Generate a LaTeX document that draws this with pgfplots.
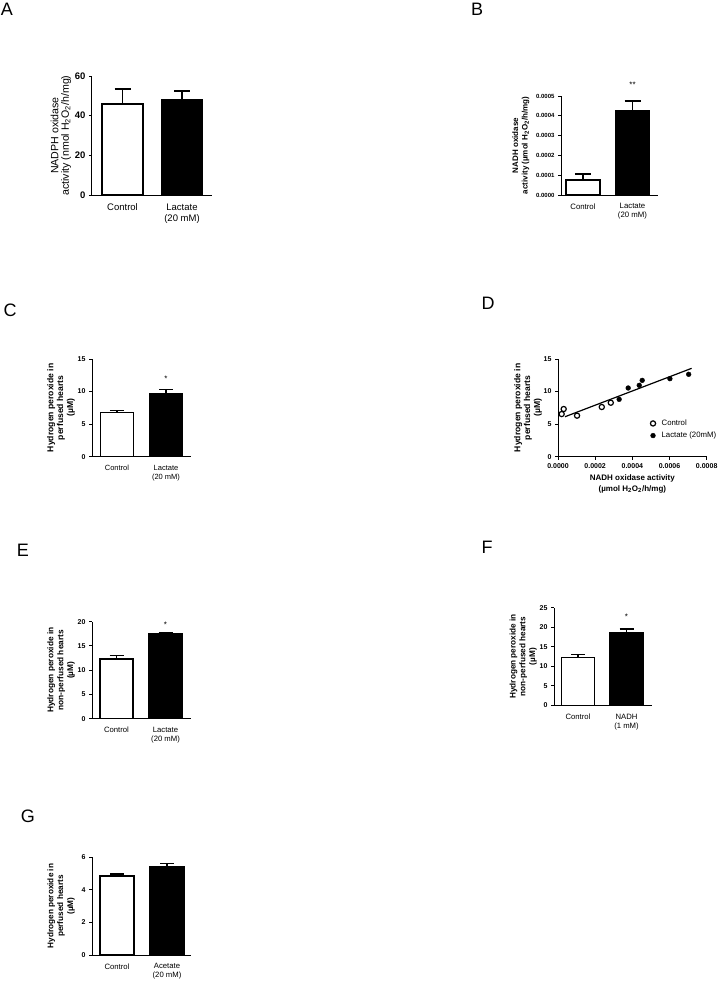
\documentclass[border=0pt]{standalone}
\usepackage{fontspec}
\setmainfont{Liberation Sans}
\usepackage{pgfplots}
\pgfplotsset{compat=1.18}

% 1 pt in the picture = 1 px of the 720x982 reference
\pgfplotsset{
  panel/.style={
    scale only axis, anchor=south west,
    axis x line*=bottom, axis y line*=left,
    x axis line style={-}, y axis line style={-},
    axis line style={line width=1pt},
    tick align=outside, major tick length=3pt,
    ytick style={black, line width=1pt},
    /pgf/number format/assume math mode=true,
    ymin=0, clip=false,
  },
  barpanel/.style={
    panel,
    ybar, bar shift=0pt,
    xtick={0,1}, xtick style={draw=none},
    xticklabel style={align=center, yshift=-2pt},
    error bars/y dir=plus, error bars/y explicit,
    error bars/error bar style={line width=1.4pt},
  },
  ctl/.style={fill=white, draw=black, line width=1.5pt},
  lac/.style={fill=black, draw=black, line width=1.5pt},
}
\tikzset{letter/.style={font=\fontsize{18}{18}\selectfont}}

\begin{document}
\begin{tikzpicture}
\useasboundingbox (0,0) rectangle (720pt,-982pt);

% panel letters
\node[letter] at (7pt,-9pt) {A};
\node[letter] at (477pt,-9pt) {B};
\node[letter] at (10pt,-310pt) {C};
\node[letter] at (488pt,-303pt) {D};
\node[letter] at (23pt,-550pt) {E};
\node[letter] at (487pt,-547pt) {F};
\node[letter] at (28pt,-816pt) {G};

% A
\begin{axis}[barpanel, at={(92pt,-195pt)}, width=120pt, height=119pt,
  xmin=-0.513, xmax=1.504, ymax=60, ytick={0,20,40,60},
  bar width=41pt,
  error bars/error mark options={rotate=90, mark size=8pt, line width=1.4pt},
  xticklabels={Control,{Lactate\\(20 mM)}},
  xticklabel style={font=\fontsize{9.5}{11}\selectfont},
  yticklabel style={font=\bfseries\fontsize{9.5}{10}\selectfont},
  ylabel={NADPH oxidase\\activity (nmol H\textsubscript{2}O\textsubscript{2}/h/mg)},
  ylabel shift=-3pt,
  ylabel style={align=center, font=\fontsize{10.6}{10.5}\selectfont}]
\addplot[ctl] coordinates {(0,45.9) +- (0,7.5)};
\addplot[lac] coordinates {(1,47.9) +- (0,4.5)};
\end{axis}

% B
\begin{axis}[barpanel, at={(561pt,-195pt)}, width=97pt, height=99pt,
  xmin=-0.444, xmax=1.515, ymax=0.0005,
  ytick={0,0.0001,0.0002,0.0003,0.0004,0.0005}, scaled y ticks=false,
  yticklabel style={font=\bfseries\fontsize{6}{7}\selectfont,
    /pgf/number format/.cd, fixed, fixed zerofill, precision=4},
  bar width=34pt,
  error bars/error mark options={rotate=90, mark size=8pt, line width=1.4pt},
  xticklabels={Control,{Lactate\\(20 mM)}},
  xticklabel style={font=\fontsize{7.8}{9}\selectfont},
  ylabel={NADH oxidase\\activity (µmol H\textsubscript{2}O\textsubscript{2}/h/mg)},
  ylabel style={align=center, font=\bfseries\fontsize{8}{9.5}\selectfont}]
\addplot[ctl] coordinates {(0,0.0000758) +- (0,0.000031)};
\addplot[lac] coordinates {(1,0.000426) +- (0,0.000049)};
\node[font=\fontsize{8}{8}\selectfont] at (axis cs:1,0.000555) {**};
\end{axis}

% C
\begin{axis}[barpanel, at={(92pt,-456.7pt)}, width=99pt, height=97.7pt,
  xmin=-0.51, xmax=1.51, ymax=15, ytick={0,5,10,15},
  bar width=33pt,
  error bars/error mark options={rotate=90, mark size=7pt, line width=1.4pt},
  xticklabels={Control,{Lactate\\(20 mM)}},
  xticklabel style={font=\fontsize{7.5}{9}\selectfont},
  yticklabel style={font=\bfseries\fontsize{7}{8}\selectfont},
  ylabel={Hydrogen peroxide in\\perfused hearts\\(µM)},
  ylabel shift=-4pt,
  ylabel style={align=center, font=\bfseries\fontsize{8.6}{9.8}\selectfont}]
\addplot[ctl] coordinates {(0,6.76) +- (0,0.3)};
\addplot[lac] coordinates {(1,9.67) +- (0,0.68)};
\node[font=\fontsize{8}{8}\selectfont] at (axis cs:1,11.9) {*};
\end{axis}

% D
\begin{axis}[panel, at={(558pt,-456.7pt)}, width=148.7pt, height=97.7pt,
  xmin=0, xmax=0.0008, ymax=15, ytick={0,5,10,15},
  xtick={0,0.0002,0.0004,0.0006,0.0008}, scaled x ticks=false,
  xtick style={black, line width=1pt},
  xticklabel style={font=\bfseries\fontsize{7}{8}\selectfont,
    /pgf/number format/.cd, fixed, fixed zerofill, precision=4},
  yticklabel style={font=\bfseries\fontsize{7}{8}\selectfont},
  ylabel={Hydrogen peroxide in\\perfused hearts\\(µM)},
  ylabel shift=-5pt,
  ylabel style={align=center, font=\bfseries\fontsize{8.6}{9.8}\selectfont},
  xlabel={NADH oxidase activity\\(µmol H\textsubscript{2}O\textsubscript{2}/h/mg)},
  xlabel style={align=center, font=\bfseries\fontsize{8}{10.5}\selectfont},
  legend style={draw=none, fill=none, at={(0.6,0.42)}, anchor=north west,
    font=\fontsize{7.8}{9}\selectfont, row sep=1pt, column sep=4pt},
  legend cell align=left]
\addplot[only marks, mark=o, mark size=2.6pt, line width=1.2pt] coordinates {
  (0.0000198,6.55) (0.0000306,7.32) (0.0001025,6.30) (0.0002355,7.63) (0.000284,8.29)};
\addplot[only marks, mark=*, mark size=2.4pt] coordinates {
  (0.000329,8.81) (0.0003775,10.55) (0.000437,10.96) (0.000453,11.72)
  (0.000602,11.98) (0.000703,12.65)};
\addplot[line width=1.2pt, no marks] coordinates {(0.0000378,6.14) (0.000719,13.57)};
\legend{Control, Lactate (20mM)}
\end{axis}

% E
\begin{axis}[barpanel, at={(92pt,-718.7pt)}, width=99pt, height=97pt,
  xmin=-0.5, xmax=1.52, ymax=20, ytick={0,5,10,15,20},
  bar width=33pt,
  error bars/error mark options={rotate=90, mark size=7pt, line width=1.4pt},
  xticklabels={Control,{Lactate\\(20 mM)}},
  xticklabel style={font=\fontsize{7.7}{9}\selectfont},
  yticklabel style={font=\bfseries\fontsize{7}{8}\selectfont},
  ylabel={Hydrogen peroxide in\\non-perfused hearts\\(µM)},
  ylabel shift=-4pt,
  ylabel style={align=center, font=\bfseries\fontsize{8.3}{9.8}\selectfont}]
\addplot[ctl] coordinates {(0,12.3) +- (0,0.7)};
\addplot[lac] coordinates {(1,17.5) +- (0,0.2)};
\node[font=\fontsize{8}{8}\selectfont] at (axis cs:1,19.3) {*};
\end{axis}

% F
\begin{axis}[barpanel, at={(554pt,-705.3pt)}, width=98pt, height=97.6pt,
  xmin=-0.495, xmax=1.526, ymax=25, ytick={0,5,10,15,20,25},
  bar width=33pt,
  error bars/error mark options={rotate=90, mark size=7pt, line width=1.4pt},
  xticklabels={Control,{NADH\\(1 mM)}},
  xticklabel style={font=\fontsize{7.7}{9}\selectfont},
  yticklabel style={font=\bfseries\fontsize{7}{8}\selectfont},
  ylabel={Hydrogen peroxide in\\non-perfused hearts\\(µM)},
  ylabel shift=-4pt,
  ylabel style={align=center, font=\bfseries\fontsize{8.2}{9.8}\selectfont}]
\addplot[ctl] coordinates {(0,12.3) +- (0,0.66)};
\addplot[lac] coordinates {(1,18.6) +- (0,0.9)};
\node[font=\fontsize{8}{8}\selectfont] at (axis cs:1,22.6) {*};
\end{axis}

% G
\begin{axis}[barpanel, at={(92pt,-955pt)}, width=99pt, height=98pt,
  xmin=-0.5, xmax=1.48, ymax=6, ytick={0,2,4,6},
  bar width=34pt,
  error bars/error mark options={rotate=90, mark size=7pt, line width=1.4pt},
  xticklabels={Control,{Acetate\\(20 mM)}},
  xticklabel style={font=\fontsize{7.7}{9}\selectfont},
  yticklabel style={font=\bfseries\fontsize{7}{8}\selectfont},
  ylabel={Hydrogen peroxide in\\perfused hearts\\(µM)},
  ylabel style={align=center, font=\bfseries\fontsize{8.2}{9.8}\selectfont}]
\addplot[ctl] coordinates {(0,4.84) +- (0,0.12)};
\addplot[lac] coordinates {(1,5.43) +- (0,0.16)};
\end{axis}
\end{tikzpicture}
\end{document}
